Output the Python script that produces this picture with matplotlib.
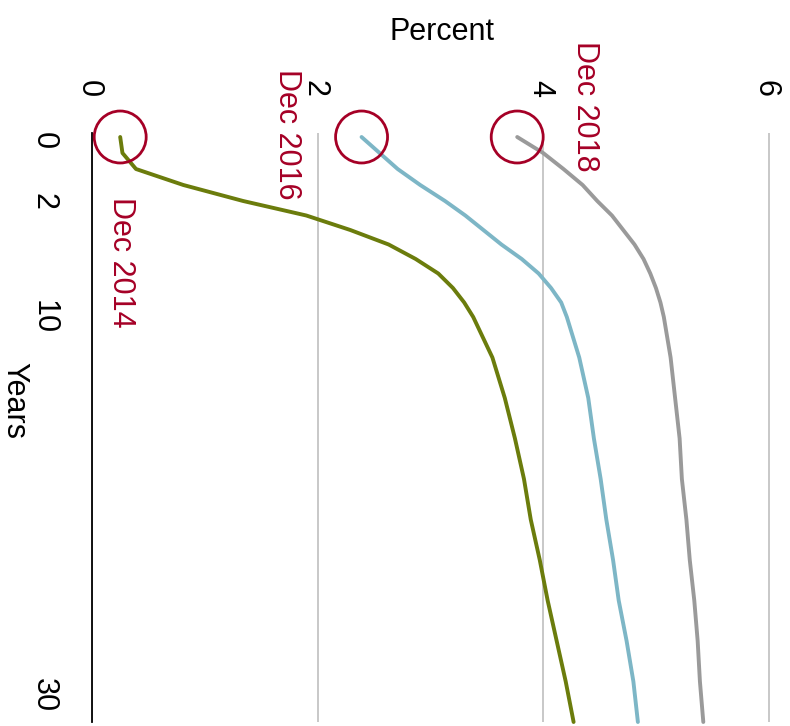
import numpy as np
import matplotlib
matplotlib.use("Agg")
import matplotlib.pyplot as plt
import matplotlib.transforms as mtransforms

plt.rcParams['font.family'] = ['Liberation Sans', 'DejaVu Sans']

# maturities in years
years = [0, 0.5, 1, 1.5, 2, 3, 4, 5, 6, 7, 8, 9, 10, 12, 14, 16, 18, 20, 22, 24, 26, 28, 30]

# yields in percent
dec2014 = [0.25, 0.27, 0.39, 0.81, 1.34, 1.90, 2.29, 2.63, 2.87, 3.07, 3.20, 3.30, 3.38,
           3.55, 3.66, 3.75, 3.83, 3.89, 3.97, 4.04, 4.12, 4.20, 4.27]
dec2016 = [2.39, 2.55, 2.71, 2.91, 3.13, 3.31, 3.47, 3.63, 3.81, 3.96, 4.07, 4.16, 4.21,
           4.32, 4.40, 4.45, 4.51, 4.56, 4.62, 4.67, 4.74, 4.80, 4.84]
dec2018 = [3.77, 4.00, 4.18, 4.35, 4.48, 4.61, 4.71, 4.81, 4.89, 4.95, 5.00, 5.04, 5.07,
           5.13, 5.17, 5.21, 5.23, 5.27, 5.30, 5.34, 5.37, 5.39, 5.42]

labels = ['Dec 2014', 'Dec 2016', 'Dec 2018']
colors = ['#6b7c0c', '#7db6c6', '#9a9a9a']
x_ticks = [0, 2, 4, 6]
y_ticks = [0, 2, 10, 30]

red = '#a50026'

# uneven maturity axis
yr_nodes = [-1, 0, 2, 10, 30]
pos_nodes = [-32, 0, 64, 180, 585]


def fwd(v):
    return np.interp(v, yr_nodes, pos_nodes)


def inv(v):
    return np.interp(v, pos_nodes, yr_nodes)


fig = plt.figure(figsize=(7.9, 7.26), dpi=100)
ax = fig.add_axes([92 / 790, 4 / 726, 688 / 790, 589 / 726])
ax.set_yscale('function', functions=(fwd, inv))
ax.set_xlim(0, 6.1)
ax.set_ylim(30, -0.125)

for s, c in zip([dec2014, dec2016, dec2018], colors):
    ax.plot(s, years, color=c, lw=2.8, solid_capstyle='round', solid_joinstyle='round',
            clip_on=False, zorder=3)

starts = [dec2014[0], dec2016[0], dec2018[0]]
ax.scatter(starts, [years[0]] * 3, s=1400, facecolors='none', edgecolors=red,
           linewidths=2.0, clip_on=False, zorder=4)

# label offsets in pixels from circle centre
offs = [(1, -125), (-75, 3), (68, 31)]
for x0, lab, (dx, dy) in zip(starts, labels, offs):
    ax.annotate(lab, (x0, years[0]), xytext=(dx, dy), textcoords='offset pixels',
                rotation=-90, ha='center', va='center', color=red, fontsize=22,
                annotation_clip=False)

ax.xaxis.tick_top()
ax.set_xticks(x_ticks)
ax.set_xticklabels([str(t) for t in x_ticks], rotation=-90, fontsize=22)
ax.set_yticks(y_ticks)
ax.set_yticklabels([str(t) for t in y_ticks], rotation=-90, fontsize=22, va='center')
ax.tick_params(length=0)
ax.tick_params(axis='x', pad=26)
ax.tick_params(axis='y', pad=24)

# the last year label sits up from the axis end
lab30 = ax.get_yticklabels()[-1]
lab30.set_transform(lab30.get_transform() +
                    mtransforms.ScaledTranslation(0, 27 / 100, fig.dpi_scale_trans))
lab0 = ax.get_yticklabels()[0]
lab0.set_transform(lab0.get_transform() +
                   mtransforms.ScaledTranslation(0, -4 / 100, fig.dpi_scale_trans))
for lab in ax.get_xticklabels():
    lab.set_transform(lab.get_transform() +
                      mtransforms.ScaledTranslation(-3 / 100, 0, fig.dpi_scale_trans))

ax.grid(axis='x', color='#c8c8c8', lw=1.4)
ax.grid(axis='y', visible=False)
for sp in ['top', 'right', 'bottom']:
    ax.spines[sp].set_visible(False)
ax.spines['left'].set_color('black')
ax.spines['left'].set_linewidth(1.3)

fig.text(442 / 790, 1 - 32 / 726, 'Percent', ha='center', va='center', fontsize=22)
fig.text(14 / 790, 1 - 400 / 726, 'Years', ha='center', va='center', fontsize=22,
         rotation=-90)

fig.savefig('out.png', dpi=100)
